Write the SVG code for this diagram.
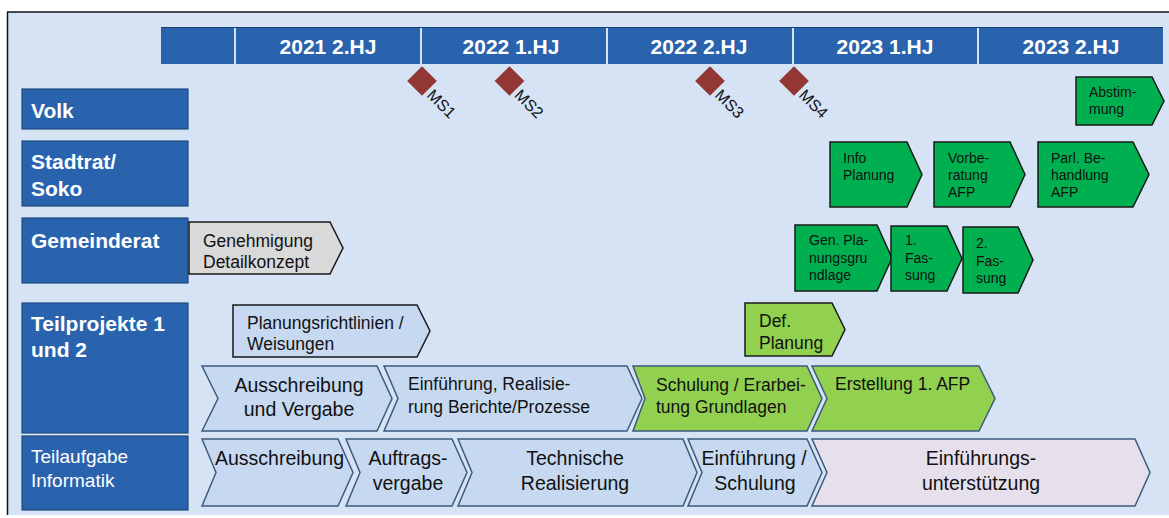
<svg xmlns="http://www.w3.org/2000/svg" width="1169" height="518" viewBox="0 0 1169 518">
<style>
.hdr{fill:#2A63AD}
.hdrt{font-family:"Liberation Sans",Arial,sans-serif;font-weight:bold;font-size:21px;fill:#fff;text-anchor:middle}
.lbl{fill:#2A63AD;stroke:#1F4A7E;stroke-width:1.2}
.lblt{font-family:"Liberation Sans",Arial,sans-serif;font-weight:bold;font-size:21px;fill:#fff}
.lblr{font-family:"Liberation Sans",Arial,sans-serif;font-size:19px;fill:#fff}
.dia{fill:#923734}
.mst{font-family:"Liberation Sans",Arial,sans-serif;font-size:16px;fill:#111}
.g{fill:#00B050;stroke:#1a1a1a;stroke-width:1.5}
.lg{fill:#92D050;stroke:#1a1a1a;stroke-width:1.5}
.gr{fill:#D9D9D9;stroke:#1a1a1a;stroke-width:1.5}
.lb{fill:#C6D9F1;stroke:#1a1a1a;stroke-width:1.5}
.cb{fill:#C6D9F1;stroke:#3E5A7E;stroke-width:1.5}
.cl{fill:#92D050;stroke:#3E5A7E;stroke-width:1.5}
.cv{fill:#E6E0EC;stroke:#3E5A7E;stroke-width:1.5}
.st{font-family:"Liberation Sans",Arial,sans-serif;font-size:14px;fill:#111}
.mt{font-family:"Liberation Sans",Arial,sans-serif;font-size:17.5px;fill:#111}
.bt{font-family:"Liberation Sans",Arial,sans-serif;font-size:19.5px;fill:#111}
.c{text-anchor:middle}
</style>
<rect x="0" y="0" width="1169" height="518" fill="#fff"/>
<rect x="7" y="12" width="1162" height="503" fill="#D5E3F5"/>
<line x1="7" y1="12" x2="1169" y2="12" stroke="#111" stroke-width="1.5"/>
<line x1="7.5" y1="12" x2="7.5" y2="515" stroke="#111" stroke-width="1.5"/>

<g id="timeline">
<rect class="hdr" x="161" y="27" width="1002" height="37"/>
<line x1="161" y1="27.5" x2="1163" y2="27.5" stroke="#1F3F6E" stroke-width="1"/>
<g stroke="#D5E3F5" stroke-width="2">
<line x1="235" y1="28" x2="235" y2="64"/>
<line x1="421" y1="28" x2="421" y2="64"/>
<line x1="607" y1="28" x2="607" y2="64"/>
<line x1="793" y1="28" x2="793" y2="64"/>
<line x1="978" y1="28" x2="978" y2="64"/>
</g>
<text class="hdrt" x="328" y="54">2021 2.HJ</text>
<text class="hdrt" x="511" y="54">2022 1.HJ</text>
<text class="hdrt" x="699" y="54">2022 2.HJ</text>
<text class="hdrt" x="885" y="54">2023 1.HJ</text>
<text class="hdrt" x="1071" y="54">2023 2.HJ</text>
</g>

<g id="milestones">
<g id="ms1"><rect class="dia" x="411.5" y="70.5" width="21" height="21" transform="rotate(45 422 81)"/><text class="mst" x="426" y="96" transform="rotate(45 426 96)">MS1</text></g>
<g id="ms2"><rect class="dia" x="499" y="70.5" width="21" height="21" transform="rotate(45 509.5 81)"/><text class="mst" x="513.5" y="96" transform="rotate(45 513.5 96)">MS2</text></g>
<g id="ms3"><rect class="dia" x="699.5" y="70.5" width="21" height="21" transform="rotate(45 710 81)"/><text class="mst" x="714" y="96" transform="rotate(45 714 96)">MS3</text></g>
<g id="ms4"><rect class="dia" x="783.5" y="70.5" width="21" height="21" transform="rotate(45 794 81)"/><text class="mst" x="798" y="96" transform="rotate(45 798 96)">MS4</text></g>
</g>

<g id="lane-volk"><rect class="lbl" x="22" y="89" width="166" height="40"/><text class="lblt" x="31" y="118">Volk</text></g>
<g id="lane-stadtrat"><rect class="lbl" x="22" y="141" width="166" height="65"/><text class="lblt" x="31" y="169">Stadtrat/</text><text class="lblt" x="31" y="196">Soko</text></g>
<g id="lane-gemeinderat"><rect class="lbl" x="22" y="218" width="166" height="65"/><text class="lblt" x="31" y="248">Gemeinderat</text></g>
<g id="lane-teilprojekte"><rect class="lbl" x="22" y="303" width="166" height="130"/><text class="lblt" x="31" y="331">Teilprojekte 1</text><text class="lblt" x="31" y="357">und 2</text></g>
<g id="lane-informatik"><rect class="lbl" x="22" y="436" width="166" height="74"/><text class="lblr" x="31" y="463">Teilaufgabe</text><text class="lblr" x="31" y="487">Informatik</text></g>

<g id="abstimmung"><polygon class="g" points="1076,77 1152,77 1164,101 1152,125 1076,125"/><text class="st" x="1089" y="97">Abstim-</text><text class="st" x="1089" y="114">mung</text></g>

<g id="info-planung"><polygon class="g" points="830,142 907,142 922,174.5 907,207 830,207"/><text class="st" x="843" y="163">Info</text><text class="st" x="843" y="180">Planung</text></g>
<g id="vorberatung"><polygon class="g" points="934,142 1010,142 1025,174.5 1010,207 934,207"/><text class="st" x="948" y="163">Vorbe-</text><text class="st" x="948" y="180">ratung</text><text class="st" x="948" y="197">AFP</text></g>
<g id="parl-behandlung"><polygon class="g" points="1038,142 1133,142 1149,174.5 1133,207 1038,207"/><text class="st" x="1051" y="163">Parl. Be-</text><text class="st" x="1051" y="180">handlung</text><text class="st" x="1051" y="197">AFP</text></g>

<g id="gen-planungsgrundlage"><polygon class="g" points="795,225 877,225 892,258 877,291 795,291"/><text class="st" x="809" y="245">Gen. Pla-</text><text class="st" x="809" y="262.5">nungsgru</text><text class="st" x="809" y="280">ndlage</text></g>
<g id="fassung1"><polygon class="g" points="891,226 947,226 962,258.5 947,291 891,291"/><text class="st" x="905" y="245">1.</text><text class="st" x="905" y="262.5">Fas-</text><text class="st" x="905" y="280">sung</text></g>
<g id="fassung2"><polygon class="g" points="963,227 1018,227 1033,260 1018,293 963,293"/><text class="st" x="976" y="248">2.</text><text class="st" x="976" y="265.5">Fas-</text><text class="st" x="976" y="283">sung</text></g>

<g id="genehmigung"><polygon class="gr" points="189,222 330,222 343,248 330,274 189,274"/><text class="mt" x="203" y="247">Genehmigung</text><text class="mt" x="203" y="268">Detailkonzept</text></g>
<g id="planungsrichtlinien"><polygon class="lb" points="233,305 417,305 430,331 417,357 233,357"/><text class="mt" x="247" y="329">Planungsrichtlinien /</text><text class="mt" x="247" y="350">Weisungen</text></g>
<g id="def-planung"><polygon class="lg" points="745,303 832,303 845,329.5 832,356 745,356"/><text class="mt" x="759" y="327">Def.</text><text class="mt" x="759" y="349">Planung</text></g>

<g id="tp-ausschreibung"><polygon class="cb" points="202,366 377,366 392,398.5 377,431 202,431 218,398.5"/><text class="bt c" x="299" y="392">Ausschreibung</text><text class="bt c" x="299" y="416">und Vergabe</text></g>
<g id="tp-einfuehrung"><polygon class="cb" points="384,366 627,366 642,398.5 627,431 384,431 398,398.5"/><text class="mt" x="408" y="390">Einführung, Realisie-</text><text class="mt" x="408" y="413">rung Berichte/Prozesse</text></g>
<g id="tp-schulung"><polygon class="cl" points="633,366 807,366 822,398.5 807,431 633,431 645,398.5"/><text class="mt" x="656" y="391">Schulung / Erarbei-</text><text class="mt" x="656" y="413">tung Grundlagen</text></g>
<g id="tp-erstellung"><polygon class="cl" points="812,366 979,366 995,398.5 979,431 812,431 827,398.5"/><text class="mt" x="835" y="390">Erstellung 1. AFP</text></g>

<g id="it-ausschreibung"><polygon class="cb" points="202,439 338,439 353,472.5 338,506 202,506 216,472.5"/><text class="bt" x="215" y="465">Ausschreibung</text></g>
<g id="it-auftragsvergabe"><polygon class="cb" points="346,439 452,439 467,472.5 452,506 346,506 360,472.5"/><text class="bt c" x="408" y="465">Auftrags-</text><text class="bt c" x="408" y="490">vergabe</text></g>
<g id="it-technische"><polygon class="cb" points="458,439 683,439 697,472.5 683,506 458,506 472,472.5"/><text class="bt c" x="575" y="465">Technische</text><text class="bt c" x="575" y="490">Realisierung</text></g>
<g id="it-einfuehrung"><polygon class="cb" points="688,439 807,439 822,472.5 807,506 688,506 702,472.5"/><text class="bt c" x="754" y="465">Einführung /</text><text class="bt c" x="755" y="490">Schulung</text></g>
<g id="it-unterstuetzung"><polygon class="cv" points="812,439 1135,439 1150,472.5 1135,506 812,506 827,472.5"/><text class="bt c" x="981" y="465">Einführungs-</text><text class="bt c" x="981" y="490">unterstützung</text></g>

<g id="connectors"/>
</svg>
